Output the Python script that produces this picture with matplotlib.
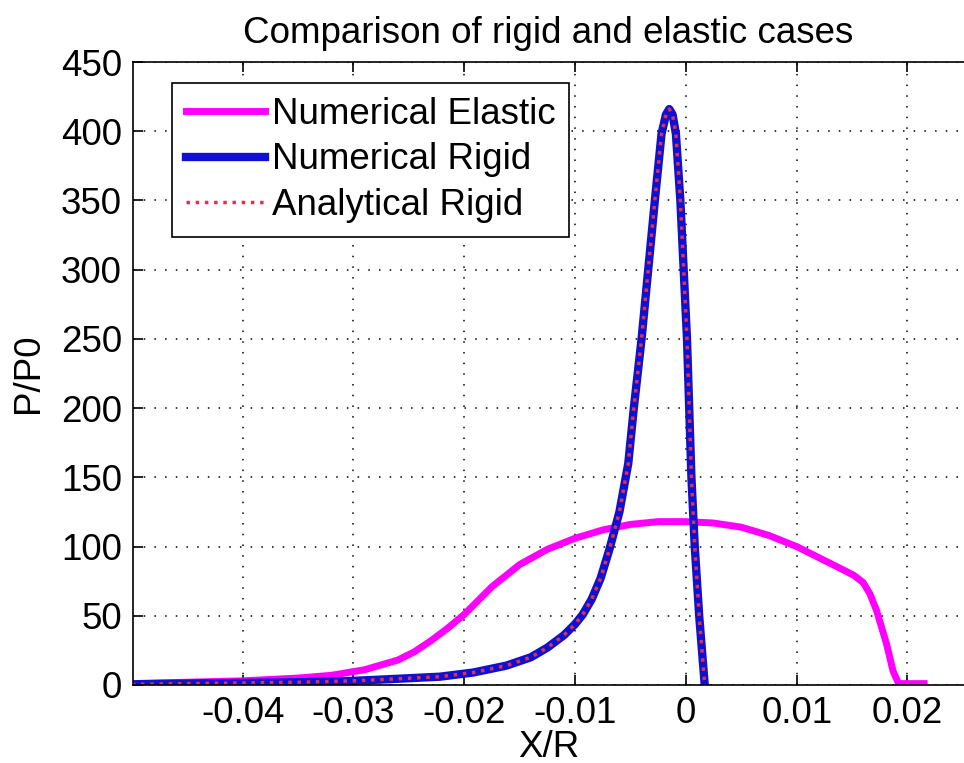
import matplotlib
matplotlib.use("Agg")
import matplotlib.pyplot as plt

plt.rcParams['font.family'] = ['Liberation Sans', 'DejaVu Sans']

# numerical elastic
x_elastic = [-0.050, -0.045, -0.040, -0.035, -0.032, -0.029, -0.026, -0.0245, -0.023,
             -0.0215, -0.020, -0.0175, -0.015, -0.0125, -0.010, -0.0075, -0.005,
             -0.0025, 0.0, 0.0025, 0.005, 0.0075, 0.010, 0.0125, 0.0140, 0.0152,
             0.0160, 0.0166, 0.0172, 0.0181, 0.0187, 0.0192, 0.0215]
p_elastic = [1, 2, 3, 5, 7, 11, 18, 24, 32,
             41, 51, 71, 87, 98, 106, 112, 116,
             118, 118, 117, 114, 108, 100, 90, 84, 79,
             74, 66, 54, 30, 10, 1, 1]

# numerical rigid
x_rigid = [-0.050, -0.045, -0.040, -0.035, -0.030, -0.026, -0.0222, -0.0192, -0.0162,
           -0.0140, -0.0125, -0.0110, -0.0100, -0.0093, -0.0085, -0.0077, -0.0069,
           -0.0060, -0.0052, -0.0047, -0.0040, -0.0034, -0.0028, -0.0022, -0.0018,
           -0.0015, -0.0012, -0.0009, -0.0005, -0.0002, 0.0001, 0.0003, 0.0005,
           0.0008, 0.0012, 0.0017]
p_rigid = [0.5, 1, 1.5, 2, 3, 4.5, 6, 9, 14,
           20, 27, 36, 44, 51, 62, 77, 98,
           125, 160, 200, 250, 300, 350, 398, 412,
           416, 412, 398, 350, 300, 250, 200, 150,
           100, 50, 0]

# analytical rigid (lies on top of the numerical one)
x_analytical = x_rigid
p_analytical = p_rigid

xticks = [-0.04, -0.03, -0.02, -0.01, 0, 0.01, 0.02]
xtick_labels = ['-0.04', '-0.03', '-0.02', '-0.01', '0', '0.01', '0.02']
yticks = [0, 50, 100, 150, 200, 250, 300, 350, 400, 450]

fs = 26.5

fig = plt.figure(figsize=(9.64, 7.63), dpi=100)
ax = fig.add_axes([133/964, 78/763, 1 - 133/964, 623/763])

ax.plot(x_elastic, p_elastic, color='#ff00ff', lw=5, label='Numerical Elastic')
ax.plot(x_rigid, p_rigid, color='#1010d0', lw=6, label='Numerical Rigid')
ax.plot(x_analytical, p_analytical, color='#e03050', lw=2.5, ls=':', label='Analytical Rigid')

ax.set_xlim(-0.0499, 0.0251)
ax.set_ylim(0, 450)
ax.set_xticks(xticks)
ax.set_xticklabels(xtick_labels)
ax.set_yticks(yticks)
ax.tick_params(labelsize=fs, direction='in', length=7, width=1.2, top=True, right=False, pad=8)
ax.spines['right'].set_visible(False)
for s in ['left', 'top', 'bottom']:
    ax.spines[s].set_linewidth(1.2)

ax.grid(True, color='black', linestyle=(0, (1, 6)), linewidth=1.1)

ax.set_title('Comparison of rigid and elastic cases', fontsize=fs, pad=14)
ax.set_xlabel('X/R', fontsize=fs)
ax.set_ylabel('P/P0', fontsize=fs)
ax.xaxis.set_label_coords(0.5, -0.072)
ax.yaxis.set_label_coords(-0.105, 0.5)

leg = ax.legend(loc='upper left', bbox_to_anchor=(0.0469, 0.966), borderaxespad=0,
                fontsize=fs, fancybox=False, framealpha=1, edgecolor='black',
                handlelength=2.15, handletextpad=0.18, borderpad=0.38, labelspacing=0.28)
leg.get_frame().set_linewidth(1.2)

fig.savefig('out.png', dpi=100)
